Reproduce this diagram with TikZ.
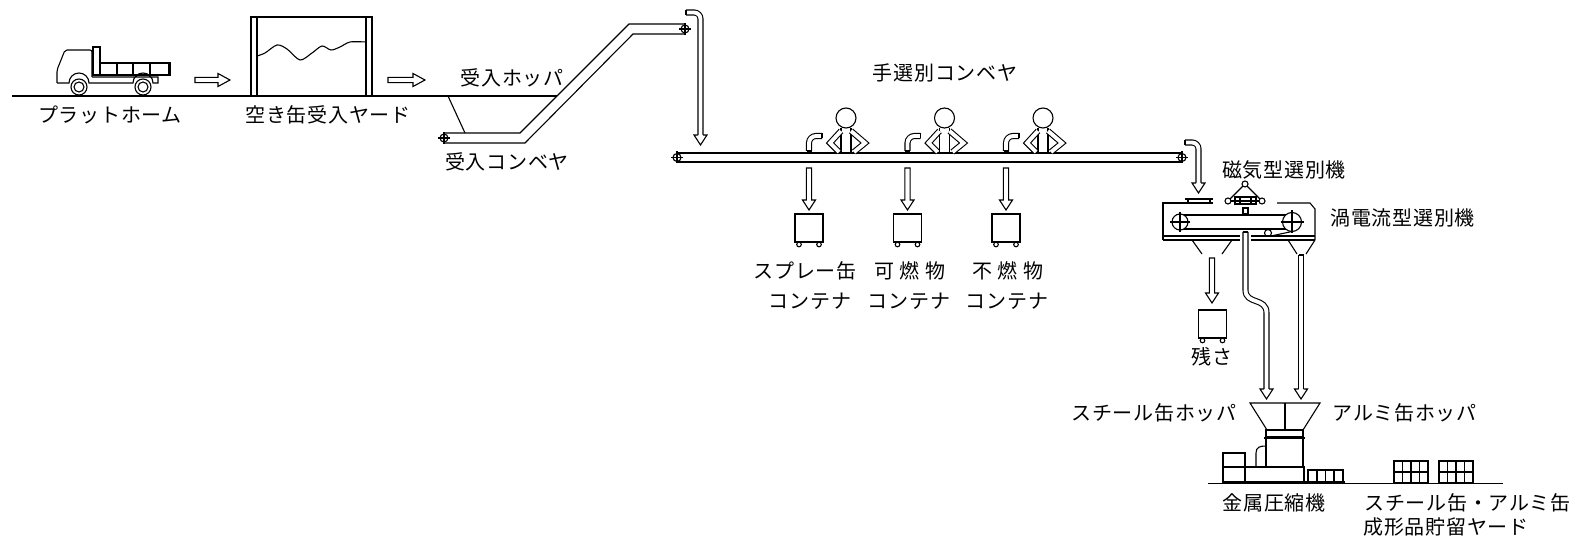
\documentclass[tikz,border=0pt]{standalone}
\usepackage{fontspec}
\newfontfamily\jp[LetterSpace=3.5]{Noto Sans CJK JP}
\usetikzlibrary{calc}

% hollow arrow pointing down: x, top y, tip y
\newcommand\hdown[3]{%
  \draw (#1-2.6,#2) -- (#1-2.6,#3-10) -- (#1-6.5,#3-10) -- (#1,#3) -- (#1+6.5,#3-10) -- (#1+2.6,#3-10) -- (#1+2.6,#2) -- cycle;}
% hollow arrow pointing right: tail x, tip x, y
\newcommand\hright[3]{%
  \draw (#1,#3-2.6) -- (#2-12,#3-2.6) -- (#2-12,#3-6.5) -- (#2,#3) -- (#2-12,#3+6.5) -- (#2-12,#3+2.6) -- (#1,#3+2.6) -- cycle;}
% open arrow head at the lower end of a pipe: x, y of the head base
\newcommand\headdown[2]{%
  \draw[fill=white] (#1-2.5,#2) -- (#1-6.5,#2) -- (#1,#2+10) -- (#1+6.5,#2) -- (#1+2.5,#2);}
% pulley with cross: x, y, radius
\newcommand\pulley[3]{%
  \draw[fill=white] (#1,#2) circle[radius=#3pt];
  \draw (#1-#3-2,#2) -- (#1+#3+2,#2) (#1,#2-#3-2) -- (#1,#2+#3+2);}
% container on wheels: centre x, top y
\newcommand\bin[2]{%
  \draw (#1-14,#2) rectangle (#1+14,#2+28);
  \draw (#1-10,#2+30.5) circle[radius=2.3pt] (#1+10,#2+30.5) circle[radius=2.3pt];}
% sorting worker with suction hose: head centre x
\newcommand\worker[1]{%
  \draw (#1,118) circle[radius=10pt];
  \draw (#1-5,128) -- (#1-5,153) (#1+5,128) -- (#1+5,153);
  \draw[pipe] (#1-5,131) -- (#1-16,143) -- (#1-7,152);
  \draw[pipe] (#1+5,131) -- (#1+19,143) -- (#1+8,152);
  \draw[pipe] (#1-37,151) -- (#1-37,143) arc[start angle=180,end angle=90,radius=7pt] -- (#1-24,136);
  \draw (#1-24,133.5) -- (#1-24,138.5) (#1-39.5,151) -- (#1-34.5,151);}

\begin{document}
\begin{tikzpicture}[x=1pt,y=-1pt,line width=1.1pt,
  lbl/.style={font=\jp\fontsize{20}{20}\selectfont,inner sep=0pt},
  pipe/.style={double,double distance=3.9pt,line width=1.1pt},
  heavy/.style={line width=2pt}]
\useasboundingbox (0,0) rectangle (1585,545);

% ---------- ground and truck ----------
\draw (12,96) -- (557,96);
\draw[rounded corners=2pt] (57,83) -- (57,70) -- (65,50) -- (92,50) -- (92,77);
\draw (57,83) -- (69,83) arc[start angle=180,end angle=0,radius=10pt] -- (133,83)
      arc[start angle=180,end angle=0,radius=10pt] -- (158,83) -- (158,77) -- (92,77);
\draw (93,47) rectangle (100,75);
\draw[heavy] (100,63) rectangle (170,75);
\draw[heavy] (116.5,63) -- (116.5,75) (133,63) -- (133,75) (150,63) -- (150,75);
\draw[heavy] (168.5,63) -- (168.5,75);
\foreach \wx in {79,143}{
  \draw[fill=white] (\wx,87) circle[radius=8pt];
  \draw (\wx,87) circle[radius=5pt];}
\node[lbl] (platform) at (110,115) {プラットホーム};

\hright{195}{230}{80}

% ---------- empty-can yard ----------
\draw (251,96) -- (251,17) -- (372,17) -- (372,96);
\draw (257,96) -- (257,17) (366,96) -- (366,17);
\draw plot[smooth] coordinates {(257,56) (265,53) (277,45) (287,49) (300,60) (312,53) (322,46) (331,50) (340,47) (350,42) (366,42)};
\node[lbl] (yard) at (328,115) {空き缶受入ヤード};

\hright{388}{425}{80}

% ---------- receiving hopper and conveyor ----------
\node[lbl] (hopper) at (512,78) {受入ホッパ};
\draw (448,96) -- (465,133);
\draw (444,133) -- (520,133) -- (629,24) -- (685,24);
\draw (444,143) -- (525,143) -- (633,34) -- (685,34);
\pulley{444}{138}{4}
\pulley{685}{29}{4}
\node[lbl] (recv) at (507,162) {受入コンベヤ};

% chute to hand sorting
\draw[pipe] (686,12.5) -- (694,12.5) arc[start angle=90,end angle=0,radius=6.5pt] -- (700.5,135);
\draw (686,10) -- (686,15);
\headdown{700.5}{135}

% ---------- hand sorting conveyor ----------
\node[lbl] (sortcv) at (945,73) {手選別コンベヤ};
\draw (677,153) -- (1182,153) (677,162) -- (1182,162);
\pulley{677}{157.5}{4}
\pulley{1182}{157.5}{4}
\worker{846}
\worker{944.5}
\worker{1043}
\foreach \cx in {809,907.5,1006}{
  \hdown{\cx}{168}{210}
  \bin{\cx}{214}}
\node[lbl] (spray) at (805,271) {スプレー缶};
\node[lbl] (burn) at (910,271) {可 燃 物};
\node[lbl] (nonburn) at (1008,271) {不 燃 物};
\node[lbl] (c1) at (810,301) {コンテナ};
\node[lbl] (c2) at (909,301) {コンテナ};
\node[lbl] (c3) at (1007,301) {コンテナ};

% chute into separators
\draw[pipe] (1185,142.5) -- (1192,142.5) arc[start angle=90,end angle=0,radius=6.5pt] -- (1198.5,183);
\draw (1185,140) -- (1185,145);
\headdown{1198.5}{183}

% ---------- magnetic / eddy current separator ----------
\node[lbl] (magsep) at (1284,170) {磁気型選別機};
\node[lbl,anchor=west] (eddysep) at (1330,218) {渦電流型選別機};
% casing
\draw (1213,203) -- (1163,203) -- (1163,240);
\draw (1277,203) -- (1310,203) -- (1315,209) -- (1315,240);
\draw (1163,236) -- (1240,236) (1163,240) -- (1240,240);
\draw (1251,236) -- (1315,236) (1251,240) -- (1315,240);
% feed tray
\draw (1185,199) -- (1213,199) (1188,199) -- (1188,203) (1210,199) -- (1210,203);
% magnet
\draw (1228,201) -- (1245,184) -- (1262,201);
\draw[fill=white] (1245,184) circle[radius=3pt];
\draw[fill=white] (1228,201) circle[radius=3pt] (1262,201) circle[radius=3pt];
\draw (1231,201) -- (1259,201);
\draw (1235,197) rectangle (1256,204);
\draw (1240,197) -- (1240,204) (1251,197) -- (1251,204);
\draw (1243,208) rectangle (1248,214);
% belt
\draw (1180,215) -- (1292,215) (1180,229) -- (1292,229);
\pulley{1180}{222}{8}
\pulley{1292}{222}{9.5}
\draw (1268,233) circle[radius=3.5pt];
\draw (1271,236) -- (1292,231.5);
% discharge hoppers
\draw (1192,240) -- (1202,254) (1232,240) -- (1222,254);
\draw (1288,240) -- (1297,254) (1315,240) -- (1306,254);
\hdown{1212}{258}{303}
\bin{1212.5}{310}
\node[lbl] (residue) at (1212,357) {残さ};

% steel and aluminium chutes
\draw[pipe] (1245.5,232) -- (1245.5,290) .. controls (1245.5,305) and (1266.5,297) .. (1266.5,313) -- (1266.5,389);
\draw (1243,232) -- (1248,232);
\headdown{1266.5}{389}
\draw[pipe] (1301,255) -- (1301,389);
\draw (1298.5,255) -- (1303.5,255);
\headdown{1301}{389}

% ---------- metal baler ----------
\node[lbl,anchor=east] (steelhop) at (1237,413) {スチール缶ホッパ};
\node[lbl,anchor=west] (aluhop) at (1332,413) {アルミ缶ホッパ};
\draw (1250,403) -- (1320,403) -- (1303,430) -- (1267,430) -- cycle;
\draw (1285,403) -- (1285,430);
\draw (1266,430) rectangle (1303,437);
\draw[heavy] (1264,437.5) -- (1305,437.5);
\draw (1266,438) rectangle (1303,467);
\draw (1256,467) -- (1256,453) .. controls (1256,447) and (1260,446) .. (1266,446);
\draw (1223,453) rectangle (1245,467);
\draw (1223,467) rectangle (1304,482);
\draw (1245,467) -- (1245,482);
\draw (1308,470) rectangle (1343,482);
\draw (1317,470) -- (1317,482) (1325.5,470) -- (1325.5,482) (1334,470) -- (1334,482);
\draw[heavy] (1223,482) -- (1345,482);
\draw (1208,483.5) -- (1503,483.5);
\node[lbl] (baler) at (1274,503) {金属圧縮機};

% ---------- bale storage ----------
\foreach \bx in {1394,1439}{
  \draw (\bx,461) rectangle (\bx+34,483);
  \draw (\bx,472) -- (\bx+34,472);
  \draw (\bx+8.5,461) -- (\bx+8.5,483) (\bx+17,461) -- (\bx+17,483) (\bx+25.5,461) -- (\bx+25.5,483);}
\node[lbl,anchor=west] (store1) at (1364,503) {スチール缶・アルミ缶};
\node[lbl,anchor=west] (store2) at (1363,527) {成形品貯留ヤード};
\end{tikzpicture}
\end{document}
